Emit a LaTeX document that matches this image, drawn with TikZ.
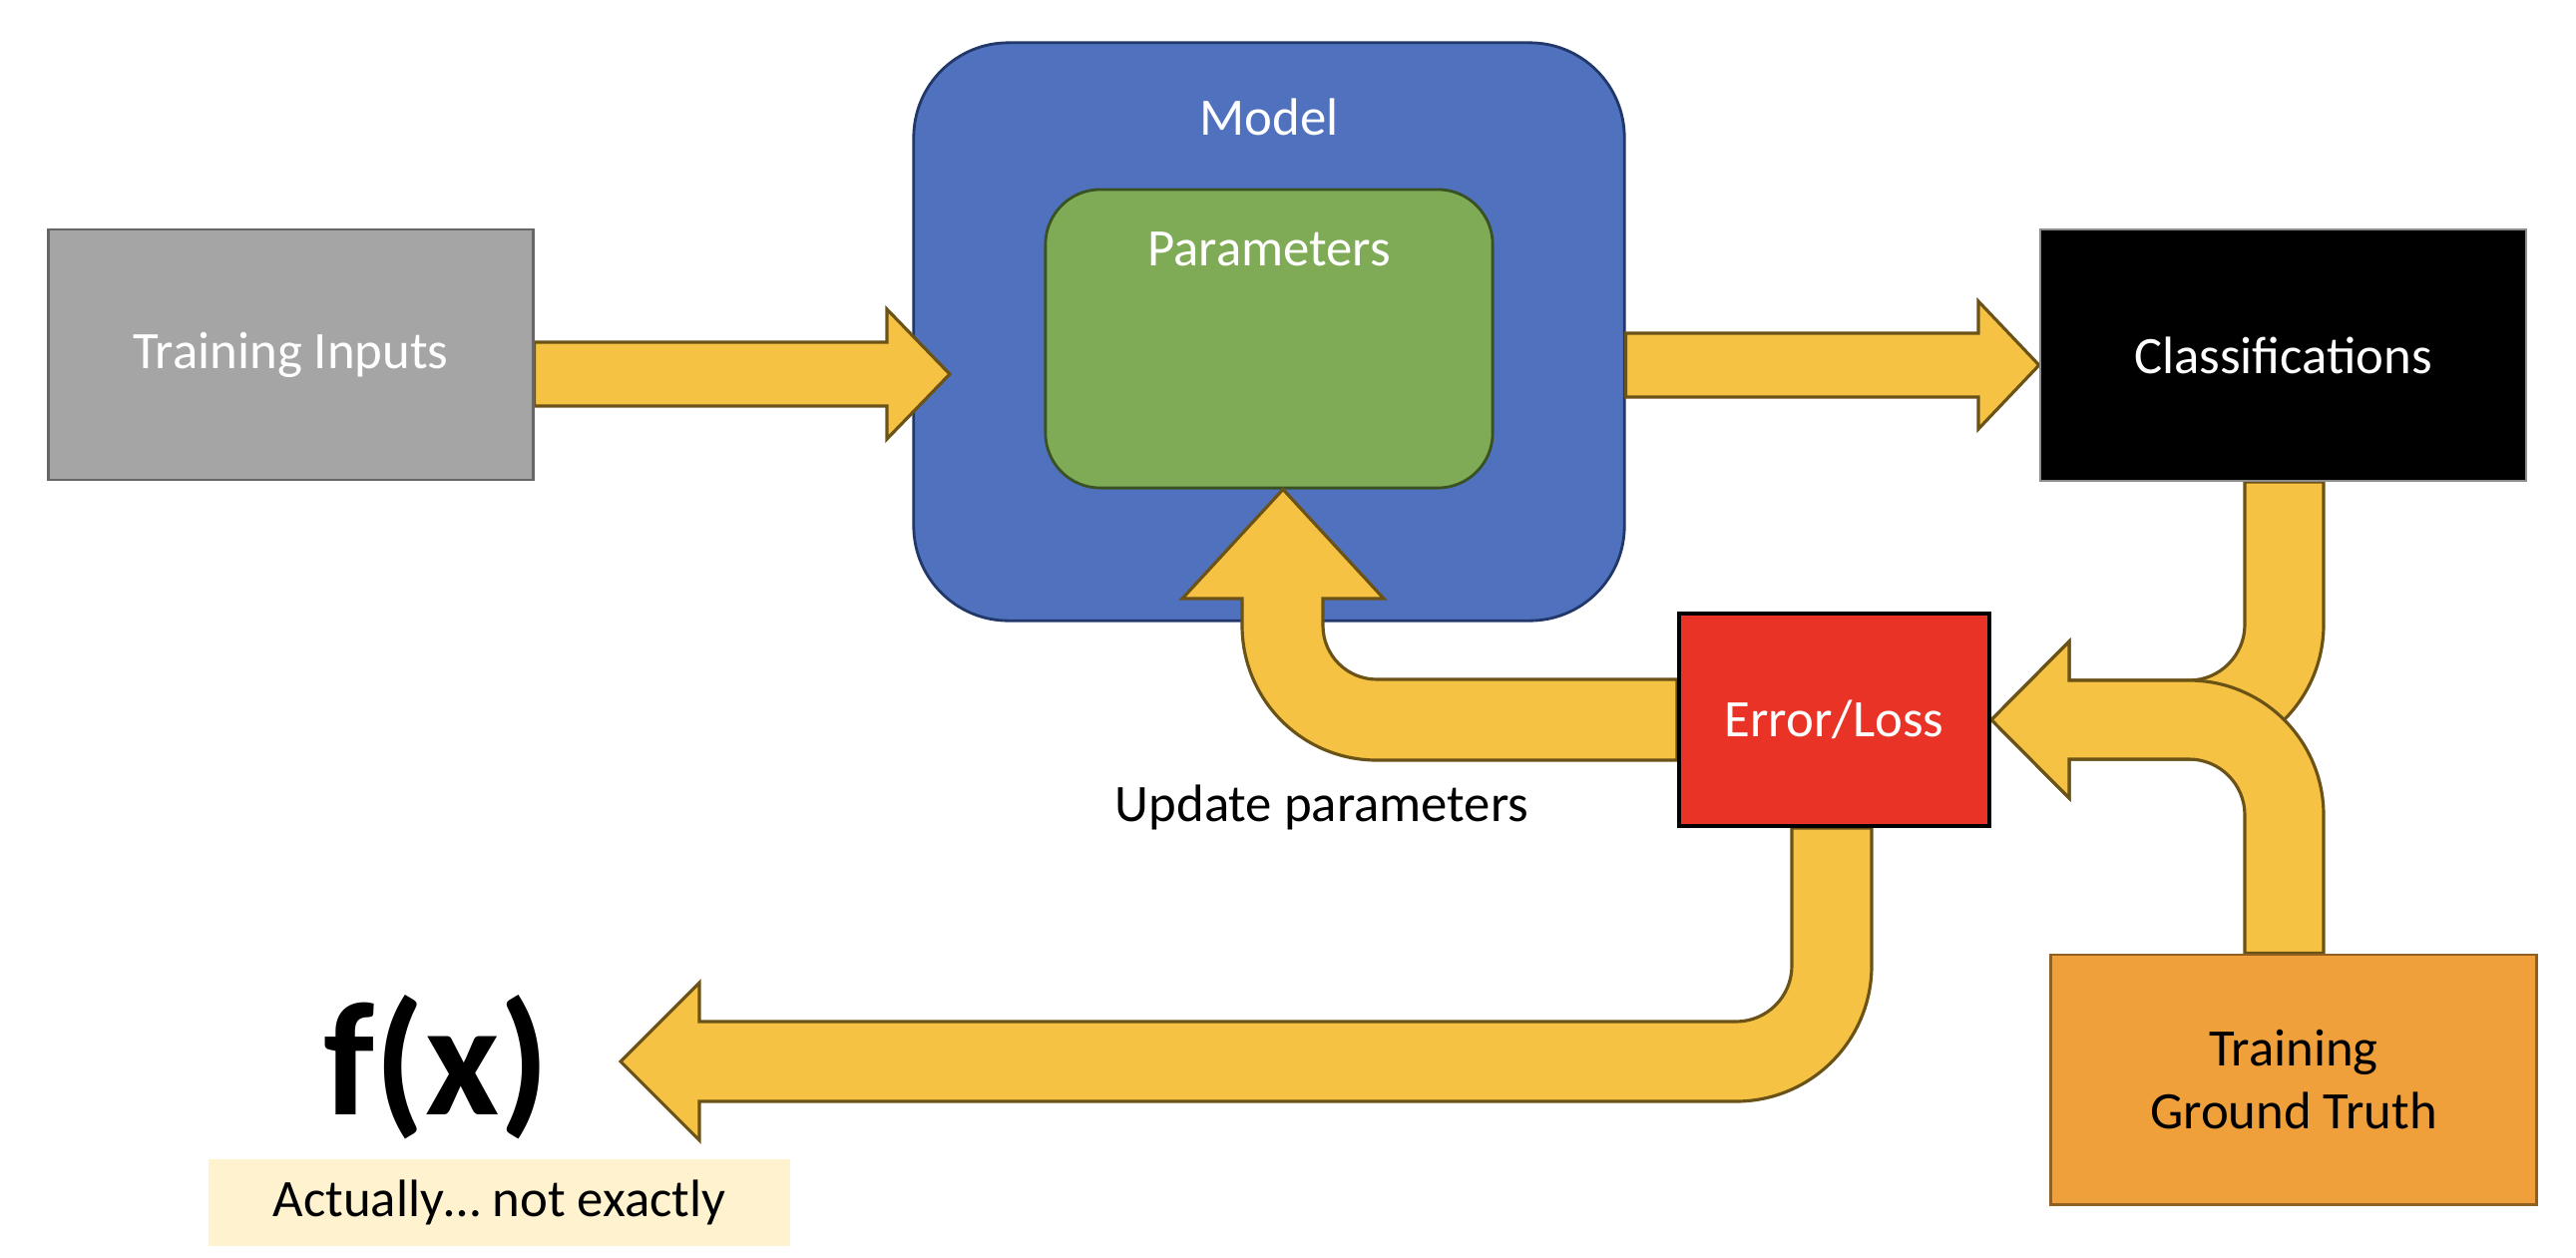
\documentclass[tikz,border=0pt]{standalone}
\usepackage{fontspec}
\setmainfont{Carlito}
\usepackage{xcolor}
\usetikzlibrary{calc}
\definecolor{modelblue}{HTML}{5072BE}
\definecolor{modeledge}{HTML}{22386A}
\definecolor{paramgreen}{HTML}{7FAB56}
\definecolor{paramedge}{HTML}{3A5223}
\definecolor{inputgray}{HTML}{A5A5A5}
\definecolor{lossred}{HTML}{E93326}
\definecolor{truthorange}{HTML}{F0A03A}
\definecolor{flowyellow}{HTML}{F5C243}
\definecolor{flowedge}{HTML}{6B5217}
\definecolor{noteyellow}{HTML}{FEF2CF}
\pgfdeclarelayer{front}
\pgfsetlayers{main,front}
\tikzset{lbl/.style={font=\fontsize{15}{18}\selectfont, inner sep=0pt}}
\tikzset{box/.style={lbl, rectangle, minimum width=#1}}
\tikzset{flow/.style={fill=flowyellow, draw=flowedge, line width=0.9pt, line join=miter}}

\begin{document}
\begin{tikzpicture}[x=0.01cm, y=-0.01cm]
        \useasboundingbox (0,0) rectangle (2582,1260);
        % Boxes in front of the arrows
        \begin{pgfonlayer}{front}
          \node[box=4.85cm, minimum height=2.51cm, fill=inputgray, draw=black!60, line width=0.8pt, text=white] (inputs) at (291.5,355.5) {Training Inputs};
          \node[box=4.87cm, minimum height=2.52cm, fill=black, draw=black!45, line width=0.6pt, text=white] (classif) at (2288.5,356) {Classifications};
          \node[box=3.11cm, minimum height=2.13cm, fill=lossred, draw=black, line width=1.1pt, text=white] (err) at (1838.5,721.5) {Error/Loss};
          \node[box=4.86cm, minimum height=2.50cm, fill=truthorange, draw=truthorange!60!black, line width=0.8pt, align=center] (truth) at (2299,1082) {Training\\Ground Truth};
        \end{pgfonlayer}
        % Model
        \node[rectangle, rounded corners=0.95cm, minimum width=7.12cm, minimum height=5.79cm, fill=modelblue, draw=modeledge, line width=0.8pt] (model) at (1272,332.5) {};
        \node[rectangle, rounded corners=0.55cm, minimum width=4.48cm, minimum height=2.99cm, fill=paramgreen, draw=paramedge, line width=0.8pt] (param) at (1272,339.5) {};
        \node[lbl, text=white] (modeltxt) at (1272,117) {Model};
        \node[lbl, text=white] (paramtxt) at (1272,250) {Parameters};
        % Straight arrows
        \draw[flow] (inputs.east |- 0,343) -- (889,343) -- (889,310) -- (952,375) -- (889,440) -- (889,407) -- (inputs.east |- 0,407) -- cycle;
        \draw[flow] (model.east |- 0,334) -- (1983,334) -- (1983,302) -- (classif.west |- 0,366) -- (1983,430) -- (1983,398) -- (model.east |- 0,398) -- cycle;
        % Update parameters
        \draw[flow] (err.west |- 0,681) -- (1380,681) arc[start angle=90, end angle=180, radius=54]
          -- (1326,600) -- (1387,600) -- (param.south -| 1286,0) -- (1185,600) -- (1245,600) -- (1245,627)
          arc[start angle=180, end angle=90, radius=135] -- (err.west |- 0,762) -- cycle;
        \node[lbl, anchor=base] (updtxt) at (1325,823) {Update parameters};
        % Classifications and ground truth join into the loss
        \draw[flow] (classif.south -| 2250,0) -- (2250,626) arc[start angle=0, end angle=90, radius=56]
          -- (2074,682) -- (2074,643) -- (err.east) -- (2074,800) -- (2074,761) -- (2194,761)
          arc[start angle=90, end angle=0, radius=135] -- (classif.south -| 2329,0) -- cycle;
        \draw[flow] (truth.north -| 2250,0) -- (2250,817) arc[start angle=0, end angle=-90, radius=56]
          -- (2074,761) -- (2074,800) -- (err.east) -- (2074,643) -- (2074,682) -- (2194,682)
          arc[start angle=-90, end angle=0, radius=135] -- (truth.north -| 2329,0) -- cycle;
        % Loss out to f(x)
        \draw[flow] (err.south -| 1796,0) -- (1796,968) arc[start angle=0, end angle=90, radius=56]
          -- (701,1024) -- (701,985) -- (622,1064) -- (701,1143) -- (701,1104) -- (1740,1104)
          arc[start angle=90, end angle=0, radius=136] -- (err.south -| 1876,0) -- cycle;
        \node[font=\bfseries\fontsize{46}{52}\selectfont, inner sep=0pt, anchor=base] (fx) at (438,1117) {f(x)};
        \node[lbl, fill=noteyellow, minimum width=5.83cm, minimum height=0.87cm] (note) at (500.5,1205.5) {Actually… not exactly};
        \end{tikzpicture}
\end{document}
